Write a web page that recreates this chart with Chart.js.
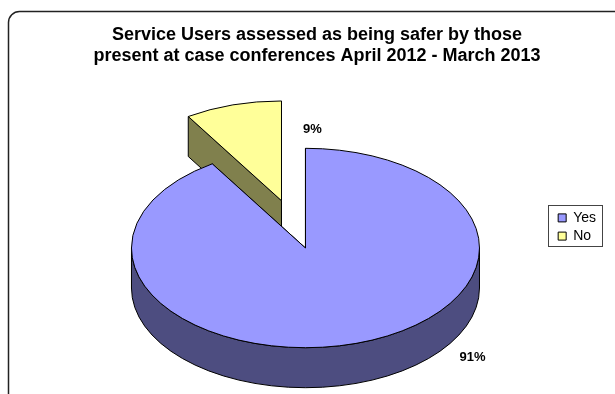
<!DOCTYPE html>
<html>
<head>
<meta charset="utf-8">
<style>
  html, body { margin: 0; padding: 0; background: #fff; }
  #chart { display: block; }
</style>
</head>
<body>
<canvas id="chart" width="615" height="394"></canvas>

<script src="https://cdn.jsdelivr.net/npm/chart.js@4"></script>

<script>
  var labels = ["Yes", "No"];
  var percents = [91, 9];
  var titleLines = ["Service Users assessed as being safer by those", "present at case conferences April 2012 - March 2013"];

  var topColors = ["#9999FF", "#FFFF99"];
  var sideColors = ["#4D4D80", "#80804D"];

  var FONT = "'Liberation Sans', Arial, sans-serif";

  // rounded border round the whole chart, running off the right and bottom edges
  var framePlugin = {
    id: "frame",
    beforeDraw: function (chart) {
      var ctx = chart.ctx;
      ctx.save();
      ctx.fillStyle = "#fff";
      ctx.fillRect(0, 0, chart.width, chart.height);
      ctx.beginPath();
      ctx.roundRect(8.5, 11.5, chart.width + 8, chart.height + 8, 11);
      ctx.lineWidth = 1.5;
      ctx.strokeStyle = "#222";
      ctx.stroke();
      ctx.restore();
    },
  };

  // tilted pie with depth; slices come from the arc elements Chart.js lays out
  var pie3dPlugin = {
    id: "pie3d",
    beforeDatasetsDraw: function (chart, args, opts) {
      var ctx = chart.ctx;
      var meta = chart.getDatasetMeta(0);
      var ds = chart.data.datasets[0];
      var tilt = opts.tilt;
      var depth = opts.depth;
      var total = ds.data.reduce(function (a, b) { return a + b; }, 0);

      var slices = meta.data.map(function (arc, i) {
        var p = arc.getProps(["x", "y", "startAngle", "endAngle", "outerRadius"], true);
        var mid = (p.startAngle + p.endAngle) / 2;
        var e = opts.explode[i] || 0;
        return {
          i: i,
          cx: p.x + Math.cos(mid) * e,
          cy: p.y + Math.sin(mid) * e * tilt,
          r: p.outerRadius,
          a0: p.startAngle,
          a1: p.endAngle,
          mid: mid,
        };
      });

      // back slices first
      var order = slices.slice().sort(function (a, b) {
        return (a.cy + Math.sin(a.mid) * a.r * tilt / 2) - (b.cy + Math.sin(b.mid) * b.r * tilt / 2);
      });

      ctx.save();
      ctx.lineWidth = 1;
      ctx.strokeStyle = "#000";
      ctx.lineJoin = "round";

      order.forEach(function (s) {
        var ry = s.r * tilt;
        ctx.fillStyle = opts.sideColors[s.i];

        [s.a0, s.a1].forEach(function (a) {
          var ex = s.cx + Math.cos(a) * s.r;
          var ey = s.cy + Math.sin(a) * ry;
          ctx.beginPath();
          ctx.moveTo(s.cx, s.cy);
          ctx.lineTo(ex, ey);
          ctx.lineTo(ex, ey + depth);
          ctx.lineTo(s.cx, s.cy + depth);
          ctx.closePath();
          ctx.fill();
          ctx.stroke();
        });

        // outer wall, only the part facing us
        for (var k = -1; k <= 2; k++) {
          var lo = Math.max(s.a0, k * 2 * Math.PI);
          var hi = Math.min(s.a1, k * 2 * Math.PI + Math.PI);
          if (hi <= lo) continue;
          ctx.beginPath();
          ctx.ellipse(s.cx, s.cy, s.r, ry, 0, lo, hi);
          ctx.ellipse(s.cx, s.cy + depth, s.r, ry, 0, hi, lo, true);
          ctx.closePath();
          ctx.fill();
          ctx.stroke();
        }

        ctx.fillStyle = ds.backgroundColor[s.i];
        ctx.beginPath();
        ctx.moveTo(s.cx, s.cy);
        ctx.ellipse(s.cx, s.cy, s.r, ry, 0, s.a0, s.a1);
        ctx.closePath();
        ctx.fill();
        ctx.stroke();
      });

      // percentage labels
      ctx.fillStyle = "#000";
      ctx.font = "bold 13px " + FONT;
      ctx.textAlign = "center";
      ctx.textBaseline = "middle";
      slices.forEach(function (s) {
        var lp = opts.labelPos[s.i];
        var a = (lp.angle - 90) * Math.PI / 180;
        var x = s.cx + Math.cos(a) * lp.dist * s.r;
        var y = s.cy + Math.sin(a) * lp.dist * s.r * tilt;
        ctx.fillText(Math.round(ds.data[s.i] / total * 100) + "%", x, y);
      });

      ctx.restore();
      return false;
    },
  };

  // small moves of the title and legend after layout, plus the legend's box
  var nudgePlugin = {
    id: "nudge",
    afterLayout: function (chart, args, opts) {
      var t = chart.titleBlock;
      var l = chart.legend;
      t.left += opts.titleX;
      t.right += opts.titleX;
      l.left += opts.legendX;
      l.right += opts.legendX;
      l.top += opts.legendY;
      l.bottom += opts.legendY;
    },
    afterDraw: function (chart, args, opts) {
      var boxes = chart.legend.legendHitBoxes;
      if (!boxes || !boxes.length) return;
      var left = Infinity, right = -Infinity, top = Infinity, bottom = -Infinity;
      boxes.forEach(function (b) {
        left = Math.min(left, b.left);
        right = Math.max(right, b.left + b.width);
        top = Math.min(top, b.top);
        bottom = Math.max(bottom, b.top + b.height);
      });
      var p = opts.framePad;
      var ctx = chart.ctx;
      ctx.save();
      ctx.strokeStyle = "#444";
      ctx.lineWidth = 1;
      ctx.strokeRect(Math.round(left - p[0]) + 0.5, Math.round(top - p[1]) + 0.5,
        Math.round(right - left + p[0] + p[2]), Math.round(bottom - top + p[1] + p[3]));
      ctx.restore();
    },
  };

  var ctx = document.getElementById("chart").getContext("2d");

  var myChart = new Chart(ctx, {
    type: "pie",
    data: {
      labels: labels,
      datasets: [
        {
          data: percents,
          backgroundColor: topColors,
          borderColor: "#000",
          borderWidth: 1,
        },
      ],
    },
    plugins: [framePlugin, pie3dPlugin, nudgePlugin],
    options: {
      responsive: false,
      animation: false,
      devicePixelRatio: 1,
      events: [],
      radius: 174,
      layout: {
        padding: { left: 48, right: 0, top: 0, bottom: 0 },
      },
      plugins: {
        title: {
          display: true,
          text: titleLines,
          color: "#000",
          font: { family: FONT, size: 18, weight: "bold", lineHeight: 1.2 },
          padding: { top: 24, bottom: 34.8 },
        },
        legend: {
          position: "right",
          align: "center",
          labels: {
            boxWidth: 8,
            boxHeight: 8,
            padding: 4.2,
            color: "#000",
            font: { family: FONT, size: 14 },
          },
        },
        tooltip: { enabled: false },
        pie3d: {
          tilt: 0.573,
          depth: 40,
          explode: [0, 86],
          sideColors: sideColors,
          labelPos: [
            { angle: 138.7, dist: 1.455 },
            { angle: 14, dist: 0.734 },
          ],
        },
        nudge: {
          titleX: -14.5,
          legendX: -9,
          legendY: 30,
          framePad: [10, 6, 6, 2.5],
        },
      },
    },
  });
</script>
</body>
</html>
